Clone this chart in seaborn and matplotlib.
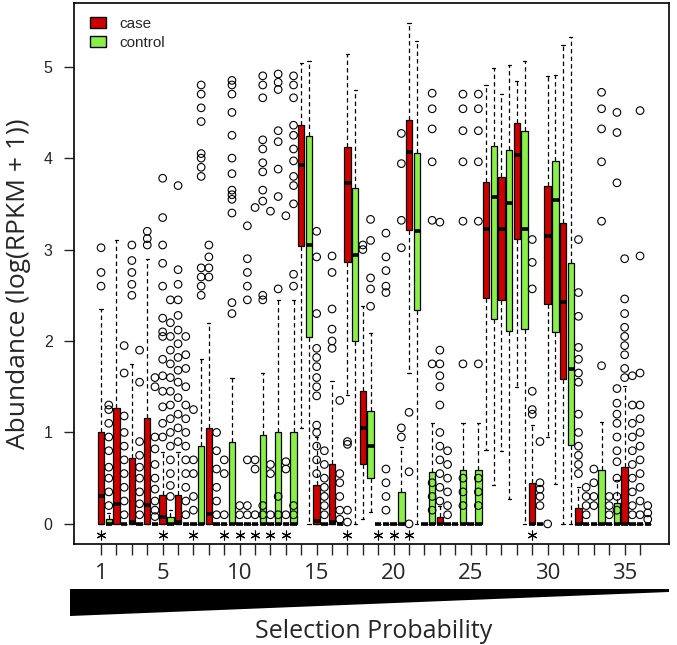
import numpy as np
import pandas as pd
import seaborn as sns
import matplotlib.pyplot as plt
from matplotlib.patches import Patch, Polygon

# box statistics per group (1..36): lower whisker, q1, median, q3, upper whisker
case_lo = [0, 0, 0, 0, 0, 0, 0, 0, 0, 0, 0, 0, 0, 1.05, 0, 0, 1.41, 0.05,
           0, 0, 1.65, 0, 0, 0, 0, 0.81, 0.8, 1.5, 0, 0.95, 0, 0, 0, 0, 0, 0]
case_q1 = [0, 0, 0, 0, 0, 0, 0, 0, 0, 0, 0, 0, 0, 3.04, 0, 0, 2.86, 0.66,
           0, 0, 3.21, 0, 0, 0, 0, 2.47, 2.45, 3.12, 0, 2.41, 1.58, 0, 0, 0, 0, 0]
case_med = [0.3, 0.22, 0.02, 0.21, 0.08, 0.02, 0, 0.11, 0, 0, 0, 0, 0, 3.92, 0.03, 0.02, 3.73, 1.05,
            0, 0, 4.07, 0, 0, 0, 0, 3.22, 3.22, 4.03, 0, 3.15, 2.43, 0, 0, 0, 0, 0]
case_q3 = [1.0, 1.27, 0.72, 1.16, 0.32, 0.32, 0, 1.05, 0, 0, 0, 0, 0, 4.36, 0.42, 0.65, 4.12, 1.45,
           0, 0, 4.42, 0, 0.08, 0, 0, 3.74, 3.79, 4.38, 0.45, 3.69, 3.29, 0.17, 0, 0, 0.62, 0]
case_hi = [2.35, 3.1, 1.75, 2.9, 0.79, 0.79, 0, 2.2, 0, 0, 0, 0, 0, 5.04, 0.95, 1.56, 5.14, 2.38,
           0, 0, 5.48, 0, 0.2, 0, 0, 4.8, 4.7, 4.84, 1.08, 4.9, 5.24, 0.4, 0, 0, 1.51, 0]

ctrl_lo = [0, 0, 0, 0, 0, 0, 0, 0, 0, 0, 0, 0, 0, 0, 0, 0, 0, 0.13,
           0, 0, 0, 0, 0, 0, 0, 0.43, 0.27, 0, 0, 0.44, 0, 0, 0, 0, 0, 0]
ctrl_q1 = [0, 0, 0, 0, 0, 0, 0, 0, 0, 0, 0, 0, 0, 2.04, 0, 0, 2.0, 0.5,
           0, 0, 2.34, 0, 0, 0, 0, 2.24, 2.11, 2.13, 0, 2.1, 0.86, 0, 0, 0, 0, 0]
ctrl_med = [0, 0, 0, 0, 0, 0, 0, 0, 0, 0, 0, 0, 0, 3.05, 0, 0, 2.94, 0.85,
            0, 0, 3.2, 0, 0, 0, 0, 3.58, 3.51, 3.22, 0, 3.54, 1.69, 0, 0, 0, 0, 0]
ctrl_q3 = [0.05, 0, 0, 0, 0.08, 0, 0.85, 0, 0.9, 0, 0.97, 1.01, 1.0, 4.24, 0, 0, 3.67, 1.23,
           0, 0.35, 4.06, 0.57, 0, 0.59, 0.59, 4.13, 4.09, 4.3, 0, 3.97, 2.85, 0, 0.59, 0.23, 0, 0]
ctrl_hi = [0.12, 0, 0, 0, 0.15, 0, 1.8, 0, 1.6, 0, 1.65, 2.45, 2.45, 5.06, 0, 0, 4.75, 2.09,
           0, 0.84, 5.28, 1.1, 0, 1.1, 1.1, 4.99, 5.02, 5.06, 0, 4.91, 5.32, 0, 1.11, 0.48, 0, 0]

case_out = [
    [2.6, 2.75, 3.02], [], [2.5, 2.62, 2.75, 2.88, 3.05], [3.05, 3.12, 3.2],
    [0.95, 1.1, 1.28, 1.45, 1.62, 1.8, 2.05, 2.1, 2.25, 2.6, 2.85, 3.05, 3.35, 3.78],
    [0.9, 1.05, 1.2, 1.38, 1.55, 1.68, 1.82, 1.97, 2.12, 2.28, 2.45, 2.62, 2.78, 3.7],
    [0.15, 0.3, 0.55, 0.7, 1.25], [2.7, 2.8, 2.92, 3.05], [0.1, 0.55, 0.7], [0.1, 0.2],
    [0.1, 0.6, 0.7, 3.46], [0.1, 0.55, 0.65, 3.42], [0.1, 0.6, 0.68, 3.37], [],
    [0.55, 0.7, 0.85, 1.0, 1.08, 1.4, 1.5, 1.6, 1.72, 1.82, 1.92, 2.3, 2.92, 3.2],
    [1.92, 2.0, 2.13, 2.35, 2.75, 2.93], [0.02, 0.15, 0.87, 0.9], [3.0, 3.05], [], [],
    [0.0, 0.57, 1.22], [], [0.25, 0.4, 0.55, 0.7, 0.85, 1.0, 1.3, 1.5, 1.62, 1.75, 1.9, 3.3],
    [], [], [], [], [], [1.2, 1.25, 1.45, 2.57, 2.86, 3.11], [0.0], [],
    [0.55, 0.65, 0.75, 0.85, 1.0, 1.2, 1.55, 1.65, 1.8, 1.93, 2.27, 2.53, 3.11],
    [0.2, 0.3, 0.45, 0.6], [0.1, 0.2, 0.3],
    [1.6, 1.7, 1.85, 1.95, 2.05, 2.15, 2.3, 2.46, 2.9],
    [0.1, 0.25, 0.4, 0.55, 0.7, 0.85, 1.0, 1.15, 1.3, 1.65, 2.93, 4.52],
]
ctrl_out = [
    [0.2, 0.35, 0.5, 0.62, 0.8, 0.95, 1.1, 1.25, 1.3],
    [0.1, 0.25, 0.4, 0.55, 0.7, 0.85, 1.0, 1.18, 1.65, 1.95],
    [0.1, 0.22, 0.35, 0.5, 0.62, 0.75, 0.9, 1.55, 1.9],
    [0.08, 0.15, 0.25, 0.38, 0.5, 0.65, 0.82, 0.95, 1.5, 1.6],
    [0.3, 0.42, 0.55, 0.7, 0.85, 1.0, 1.15, 1.3, 1.45, 1.6, 1.75, 1.9, 2.05, 2.2, 2.45],
    [0.1, 0.25, 0.4, 0.55, 0.7, 0.85, 1.0, 1.15, 1.3, 1.5, 1.7, 1.85, 2.05],
    [2.5, 2.6, 2.7, 2.8, 3.8, 3.9, 4.0, 4.05, 4.4, 4.55, 4.7, 4.8],
    [0.1, 0.25, 0.4, 0.6, 0.8, 1.0],
    [2.3, 2.42, 3.4, 3.55, 3.6, 3.65, 3.83, 4.0, 4.25, 4.5, 4.7, 4.8, 4.85],
    [0.1, 0.2, 0.7, 2.45, 2.6, 2.75, 2.9, 3.26],
    [0.1, 0.2, 2.45, 2.5, 3.53, 3.65, 3.85, 3.95, 4.1, 4.2, 4.66, 4.8, 4.9],
    [0.1, 0.3, 2.57, 3.58, 3.88, 4.18, 4.3, 4.75, 4.83, 4.92],
    [0.1, 0.2, 2.6, 2.73, 3.5, 3.7, 3.8, 3.97, 4.1, 4.25, 4.36, 4.66, 4.8, 4.9],
    [], [0.1, 0.2, 0.3, 0.4, 0.5, 0.65, 0.8], [0.05, 0.15, 0.3, 0.45, 0.55, 1.35], [],
    [2.38, 2.57, 2.69, 3.1, 3.33],
    [0.15, 0.3, 0.45, 0.6, 2.53, 2.6, 2.77, 2.92, 3.18],
    [0.95, 1.05, 3.02, 3.32, 3.94, 4.27], [],
    [0.15, 0.3, 0.45, 1.75, 3.32, 3.96, 4.32, 4.54, 4.71],
    [0.1, 0.2, 0.35, 0.5, 0.65, 0.8],
    [0.2, 0.35, 0.5, 1.75, 3.31, 3.96, 4.3, 4.54, 4.7],
    [0.2, 0.35, 0.5, 1.75, 3.31, 3.96, 4.3, 4.54, 4.7],
    [], [], [], [0.2, 0.3, 0.38, 0.45, 0.9], [], [], [0.1, 0.2, 0.3, 0.4],
    [1.73, 3.31, 3.96, 4.32, 4.54, 4.72],
    [0.15, 0.3, 0.5, 0.68, 0.8, 0.95, 1.1, 1.2, 1.32, 1.48, 3.73, 4.28, 4.5],
    [0.1, 0.2, 0.35, 0.5, 0.65, 0.8, 0.95, 1.1, 1.3, 1.62],
    [0.05, 0.12, 0.2],
]

groups = list(range(1, 37))
signif = [1, 5, 7, 9, 10, 11, 12, 13, 17, 19, 20, 21, 29]
tick_labels = {1: "1", 5: "5", 10: "10", 15: "15", 20: "20", 25: "25", 30: "30", 35: "35"}

RED = "#D00000"
GREEN = "#88F046"

# long-form table: five values per box so quartiles come out exactly
rows = []
for i, g in enumerate(groups):
    for name, lo, q1, md, q3, hi in [
        ("case", case_lo, case_q1, case_med, case_q3, case_hi),
        ("control", ctrl_lo, ctrl_q1, ctrl_med, ctrl_q3, ctrl_hi),
    ]:
        for v in (lo[i], q1[i], md[i], q3[i], hi[i]):
            rows.append({"group": g, "type": name, "value": v})
df = pd.DataFrame(rows)

out_rows = []
for i, g in enumerate(groups):
    for v in case_out[i]:
        out_rows.append({"pos": g - 0.25, "value": v})
    for v in ctrl_out[i]:
        out_rows.append({"pos": g + 0.25, "value": v})
out_df = pd.DataFrame(out_rows)
star_df = pd.DataFrame({"pos": [g - 0.25 for g in signif], "value": -0.12})

sns.set_style("white")
plt.rcParams["font.family"] = ["Liberation Sans", "DejaVu Sans"]

fig = plt.figure(figsize=(6.77, 6.45), dpi=100)
W, H = 677, 645
ax = fig.add_axes([73.5 / W, 1 - 544 / H, (669 - 73.5) / W, (544 - 2.7) / H])

sns.boxplot(data=df, x="group", y="value", hue="type", hue_order=["case", "control"],
            native_scale=True, dodge=True, width=1.0, gap=0.16, whis=(0, 100),
            palette={"case": RED, "control": GREEN}, saturation=1, linecolor="black",
            linewidth=0.9, showfliers=False, legend=False, ax=ax,
            medianprops={"linewidth": 2.6, "color": "black", "solid_capstyle": "butt"},
            whiskerprops={"linestyle": (0, (3.5, 2.5)), "linewidth": 0.9},
            capprops={"linewidth": 0.9})

sns.scatterplot(data=out_df, x="pos", y="value", ax=ax, marker="o", s=30,
                facecolor="none", edgecolor="black", linewidth=0.8, legend=False, zorder=3)
# significance asterisks
sns.scatterplot(data=star_df, x="pos", y="value", ax=ax, marker=(6, 2, 0), s=42,
                color="black", linewidth=0.8, legend=False, zorder=3)

ax.set_xlim(-1.04, 37.63)
ax.set_ylim(-0.22, 5.70)
ax.set_xlabel("")
ax.set_ylabel("")

# frame
for s in ["left", "top", "right", "bottom"]:
    ax.spines[s].set_visible(True)
    ax.spines[s].set_color("black")
    ax.spines[s].set_linewidth(1.2)

ax.set_xticks([g - 0.25 for g in groups])
ax.set_xticklabels([tick_labels.get(g, "") for g in groups],
                   fontsize=16, family=["Open Sans", "DejaVu Sans"])
ax.tick_params(axis="x", direction="out", length=8, width=1, pad=6, bottom=True)
ax.set_yticks(range(6))
ax.set_yticklabels([str(v) for v in range(6)], fontsize=11.5)
ax.tick_params(axis="y", direction="out", length=7, width=1, pad=8, left=True)

ax.legend(handles=[Patch(facecolor=RED, edgecolor="black", label="case"),
                   Patch(facecolor=GREEN, edgecolor="black", label="control")],
          loc="upper left", bbox_to_anchor=(0.018, 0.985), frameon=False, fontsize=11,
          handlelength=1.0, handleheight=0.75, handletextpad=0.9, labelspacing=0.3,
          borderaxespad=0)

# selection probability wedge
wedge = Polygon([(70 / W, 1 - 589 / H), (669 / W, 1 - 589 / H),
                 (669 / W, 1 - 592 / H), (70 / W, 1 - 616 / H)],
                closed=True, transform=fig.transFigure, facecolor="black", edgecolor="none")
fig.add_artist(wedge)
fig.text(374 / W, 1 - 632 / H, "Selection Probability", ha="center", va="center",
         fontsize=18, family=["Open Sans", "DejaVu Sans"])
fig.text(19 / W, 1 - 284 / H, "Abundance (log(RPKM + 1))", ha="center", va="center",
         rotation=90, fontsize=19, family=["Open Sans", "DejaVu Sans"])

fig.savefig("out.png", dpi=100)
